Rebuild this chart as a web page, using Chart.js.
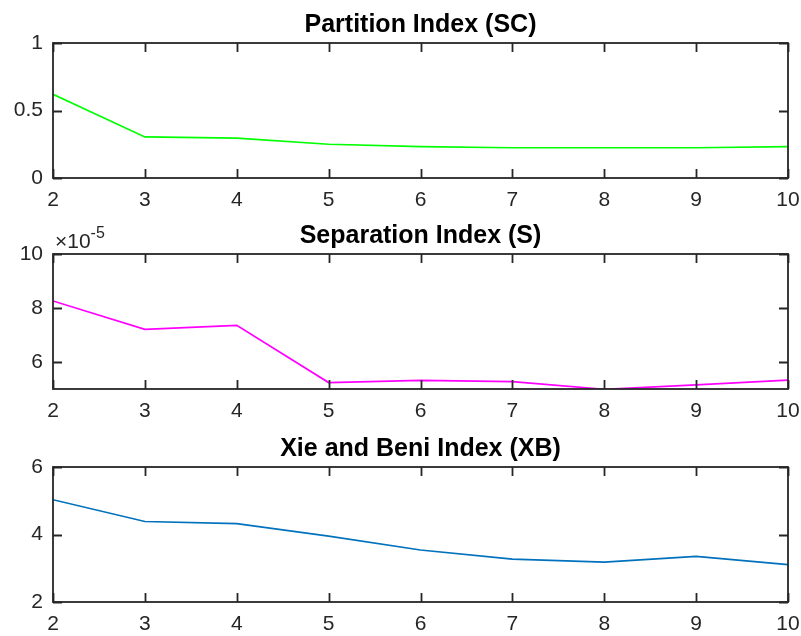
<!DOCTYPE html>
<html>
<head>
<meta charset="utf-8">
<script src="https://cdn.jsdelivr.net/npm/chart.js@4.4.1/dist/chart.umd.min.js"></script>
<style>
  body { margin: 0; background: #fff; }
  .panel { position: absolute; left: 0; width: 801px; height: 212px; }
</style>
</head>
<body>
<div class="panel" style="top:0px"><canvas id="scChart" width="801" height="212"></canvas></div>
<div class="panel" style="top:211px"><canvas id="sChart" width="801" height="212"></canvas></div>
<div class="panel" style="top:424px"><canvas id="xbChart" width="801" height="212"></canvas></div>
<script>
// Jumlah cluster (sumbu x)
const clusters = [2, 3, 4, 5, 6, 7, 8, 9, 10];
const xTicks = [2, 3, 4, 5, 6, 7, 8, 9, 10];

// Partition Index (SC)
const scValues = [0.62, 0.304, 0.296, 0.25, 0.232, 0.224, 0.224, 0.224, 0.233];
const scTicks = [0, 0.5, 1];

// Separation Index (S), skala x10^-5
const sValues = [8.26e-5, 7.21e-5, 7.36e-5, 5.24e-5, 5.32e-5, 5.27e-5, 4.99e-5, 5.15e-5, 5.33e-5];
const sTicks = [6e-5, 8e-5, 10e-5];

// Xie and Beni Index (XB)
const xbValues = [5.03, 4.385, 4.32, 3.95, 3.54, 3.27, 3.18, 3.35, 3.11];
const xbTicks = [2, 4, 6];

const axisColor = '#262626';
const fontFamily = 'Liberation Sans, Arial, sans-serif';
const tickFont = { family: fontFamily, size: 21 };

// Kotak sumbu ala MATLAB: garis tepi + tick ke dalam di keempat sisi
const matlabAxes = {
    id: 'matlabAxes',
    afterDatasetsDraw(chart, args, opts) {
        const { ctx, chartArea: a, scales: { x, y } } = chart;
        const len = 9;
        ctx.save();
        ctx.strokeStyle = axisColor;
        ctx.lineWidth = 1.8;
        ctx.beginPath();
        x.ticks.forEach(t => {
            const px = Math.round(x.getPixelForValue(t.value)) + 0.5;
            ctx.moveTo(px, a.bottom); ctx.lineTo(px, a.bottom - len);
            ctx.moveTo(px, a.top); ctx.lineTo(px, a.top + len);
        });
        y.ticks.forEach(t => {
            const py = Math.round(y.getPixelForValue(t.value)) + 0.5;
            ctx.moveTo(a.left, py); ctx.lineTo(a.left + len, py);
            ctx.moveTo(a.right, py); ctx.lineTo(a.right - len, py);
        });
        ctx.stroke();
        ctx.strokeRect(a.left, a.top, a.width, a.height);
        if (opts.exponent) {
            // label pengali sumbu y
            ctx.fillStyle = axisColor;
            ctx.textBaseline = 'alphabetic';
            ctx.font = '21px ' + fontFamily;
            const base = '\u00d710';
            ctx.fillText(base, a.left + 2, a.top - 6);
            const w = ctx.measureText(base).width;
            ctx.font = '16px ' + fontFamily;
            ctx.fillText(opts.exponent, a.left + 2 + w, a.top - 16);
        }
        ctx.restore();
    }
};

function makePanel(id, title, values, color, yMin, yMax, yTicks, fmt, exponent) {
    const ctx = document.getElementById(id)?.getContext('2d');
    if (!ctx) return;
    new Chart(ctx, {
        type: 'line',
        data: {
            labels: clusters,
            datasets: [{
                data: clusters.map((c, i) => ({ x: c, y: values[i] })),
                borderColor: color,
                borderWidth: 1.7,
                pointRadius: 0,
                tension: 0,
                fill: false
            }]
        },
        options: {
            responsive: false,
            animation: false,
            layout: { padding: { left: 0, right: 13, top: 0, bottom: 0 } },
            plugins: {
                legend: { display: false },
                tooltip: { enabled: false },
                title: {
                    display: true,
                    text: title,
                    fullSize: false,
                    color: '#000',
                    font: { family: fontFamily, size: 25, weight: 'bold' },
                    padding: { top: 10.5, bottom: 2.5 }
                },
                matlabAxes: { exponent: exponent }
            },
            scales: {
                x: {
                    type: 'linear',
                    min: 2, max: 10,
                    afterBuildTicks: s => { s.ticks = xTicks.map(v => ({ value: v })); },
                    afterFit: s => { s.height = 34; s.paddingLeft = 0; s.paddingRight = 0; },
                    grid: { display: false, drawTicks: false },
                    border: { display: false },
                    ticks: { color: axisColor, font: tickFont, padding: 10, maxRotation: 0 }
                },
                y: {
                    min: yMin, max: yMax,
                    afterBuildTicks: s => { s.ticks = yTicks.map(v => ({ value: v })); },
                    afterFit: s => { s.width = 53; s.paddingTop = 0; s.paddingBottom = 0; },
                    grid: { display: false, drawTicks: false },
                    border: { display: false },
                    ticks: { color: axisColor, font: tickFont, padding: 10, callback: fmt }
                }
            }
        },
        plugins: [matlabAxes]
    });
}

makePanel('scChart', 'Partition Index (SC)', scValues, '#00ff00', 0, 1, scTicks, v => String(v));
makePanel('sChart', 'Separation Index (S)', sValues, '#ff00ff', 5e-5, 10e-5, sTicks, v => String(Math.round(v / 1e-5)), '-5');
makePanel('xbChart', 'Xie and Beni Index (XB)', xbValues, '#0072bd', 2, 6, xbTicks, v => String(v));
</script>
</body>
</html>
